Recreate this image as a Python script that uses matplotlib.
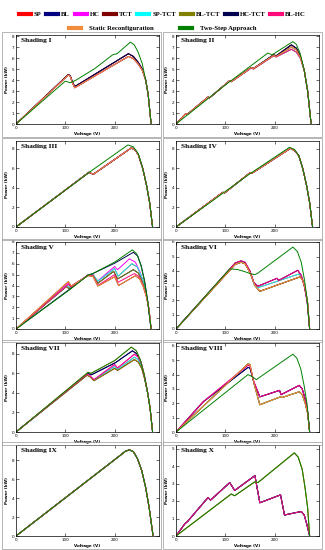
import matplotlib.pyplot as plt
from matplotlib.lines import Line2D
from matplotlib.patches import Rectangle

series = ["SP", "BL", "HC", "TCT", "SP-TCT", "BL-TCT", "HC-TCT", "BL-HC",
          "Static Reconfiguration", "Two-Step Approach"]
colors = ["#ff0000", "#000080", "#ff00ff", "#800000", "#00ffff", "#808000",
          "#000050", "#ff0a78", "#f08c3c", "#008000"]
titles = ["Shading I", "Shading II", "Shading III", "Shading IV", "Shading V",
          "Shading VI", "Shading VII", "Shading VIII", "Shading IX", "Shading X"]

# ---------------------------
# P-V curves (V in volts, P in kW)
# ---------------------------
v1_ts = [0, 100, 110, 122, 160, 196, 205, 232, 240, 248, 256, 263, 268, 274]
p1_ts = [0, 3.9, 3.75, 4.0, 5.05, 6.3, 6.4, 7.45, 7.2, 6.5, 5.5, 4.0, 2.7, 0]
v1_a = [0, 106, 110, 114, 119, 228, 238, 248, 256, 263, 268, 274]
p1_a = [0, 4.5, 4.4, 3.9, 3.4, 6.4, 6.15, 5.6, 5.0, 4.0, 2.7, 0]
p1_b = [0, 4.45, 4.35, 3.8, 3.3, 6.15, 5.95, 5.45, 4.9, 4.0, 2.7, 0]

v2_ts = [0, 100, 186, 195, 237, 244, 252, 260, 267, 274]
p2_ts = [0, 3.55, 6.45, 6.3, 7.5, 7.25, 6.4, 4.9, 3.0, 0]
v2_a = [0, 20, 23, 65, 68, 109, 112, 153, 157, 198, 203, 234, 244, 252, 260, 267, 274]
p2_a = [0, 0.95, 0.88, 2.45, 2.38, 3.95, 3.85, 5.15, 5.05, 6.3, 6.2, 7.2, 6.9, 6.2, 4.9, 3.0, 0]
p2_b = [0, 0.95, 0.88, 2.45, 2.38, 3.95, 3.85, 5.15, 5.05, 6.25, 6.15, 7.0, 6.75, 6.1, 4.9, 3.0, 0]
p2_c = [0, 0.95, 0.88, 2.45, 2.38, 3.95, 3.85, 5.1, 5.0, 6.2, 6.1, 6.8, 6.55, 6.0, 4.9, 3.0, 0]

v3_ts = [0, 150, 227, 238, 248, 257, 265, 271, 277]
p3_ts = [0, 5.65, 8.4, 8.2, 7.5, 6.0, 4.2, 2.5, 0]
v3_a = [0, 148, 152, 157, 234, 242, 248, 257, 265, 271, 277]
p3_a = [0, 5.6, 5.5, 5.4, 8.1, 7.85, 7.4, 6.0, 4.2, 2.5, 0]

v4_ts = [0, 150, 230, 240, 249, 257, 265, 271, 277]
p4_ts = [0, 5.45, 8.15, 7.95, 7.3, 6.0, 4.2, 2.5, 0]
v4_a = [0, 95, 99, 150, 154, 232, 241, 249, 257, 265, 271, 277]
p4_a = [0, 3.55, 3.5, 5.55, 5.5, 8.05, 7.8, 7.3, 6.0, 4.2, 2.5, 0]

v5_ts = [0, 110, 146, 156, 200, 236, 245, 253, 260, 267, 274]
p5_ts = [0, 3.65, 4.95, 5.1, 6.15, 7.27, 6.9, 5.9, 4.5, 2.6, 0]
v5_b = [0, 110, 146, 156, 200, 238, 247, 254, 261, 267, 274]
p5_b = [0, 3.7, 4.95, 5.1, 6.05, 7.05, 6.7, 5.8, 4.4, 2.6, 0]
v5_c = [0, 106, 112, 146, 156, 164, 200, 206, 230, 242, 251, 259, 267, 274]
p5_c = [0, 4.2, 3.95, 4.95, 5.05, 4.35, 5.75, 5.45, 6.45, 6.15, 5.3, 4.2, 2.5, 0]
v5_d = [0, 104, 110, 146, 156, 166, 200, 207, 235, 246, 254, 261, 268, 274]
p5_d = [0, 4.0, 3.8, 4.95, 5.0, 4.4, 5.55, 4.85, 6.0, 5.7, 4.9, 3.9, 2.3, 0]
v5_e = [0, 102, 108, 146, 156, 166, 198, 206, 238, 248, 256, 263, 269, 274]
p5_e = [0, 3.9, 3.7, 4.95, 4.95, 4.2, 5.3, 4.6, 5.45, 5.15, 4.4, 3.4, 2.0, 0]
v5_f = [0, 106, 112, 146, 156, 166, 200, 207, 240, 249, 257, 264, 270, 274]
p5_f = [0, 4.1, 3.85, 4.95, 4.9, 4.0, 5.0, 4.3, 5.1, 4.85, 4.1, 3.1, 1.8, 0]
v5_g = [0, 106, 112, 146, 156, 166, 200, 208, 242, 251, 258, 265, 270, 274]
p5_g = [0, 4.35, 3.95, 4.9, 4.85, 3.95, 4.8, 4.0, 4.9, 4.6, 3.9, 2.9, 1.7, 0]

v6_ts = [0, 109, 125, 140, 152, 160, 166, 237, 246, 254, 261, 266, 271]
p6_ts = [0, 4.15, 4.1, 3.95, 3.8, 3.75, 3.85, 5.65, 5.35, 4.6, 3.3, 2.0, 0]
v6_u = [0, 120, 132, 140, 150, 158, 166, 205, 208, 247, 254, 260, 266, 271]
p6_u = [0, 4.55, 4.7, 4.6, 4.0, 3.2, 2.95, 3.5, 3.35, 4.05, 3.7, 3.0, 1.9, 0]
v6_m = [0, 120, 132, 140, 150, 158, 166, 250, 256, 261, 266, 271]
p6_m = [0, 4.5, 4.65, 4.55, 3.95, 3.1, 2.85, 3.8, 3.5, 3.0, 1.9, 0]
v6_l = [0, 120, 132, 140, 150, 160, 170, 252, 257, 262, 267, 271]
p6_l = [0, 4.45, 4.6, 4.5, 3.9, 3.0, 2.6, 3.6, 3.35, 2.8, 1.8, 0]

v7_ts = [0, 146, 152, 200, 234, 244, 252, 260, 267, 272, 277]
p7_ts = [0, 6.1, 6.0, 7.3, 8.68, 8.3, 7.4, 5.9, 4.0, 2.4, 0]
v7_b = [0, 146, 153, 202, 236, 245, 253, 260, 267, 272, 277]
p7_b = [0, 6.0, 5.85, 7.1, 8.3, 8.0, 7.2, 5.8, 4.0, 2.4, 0]
v7_c = [0, 144, 150, 158, 200, 206, 240, 248, 255, 261, 267, 272, 277]
p7_c = [0, 5.9, 5.75, 5.35, 6.9, 6.55, 7.95, 7.65, 6.9, 5.6, 4.0, 2.4, 0]
p7_d = [0, 5.85, 5.7, 5.3, 6.7, 6.4, 7.65, 7.4, 6.7, 5.5, 4.0, 2.4, 0]
p7_e = [0, 5.8, 5.65, 5.25, 6.5, 6.3, 7.4, 7.15, 6.5, 5.4, 4.0, 2.4, 0]

v8_ts = [0, 146, 152, 163, 237, 245, 253, 260, 266, 271]
p8_ts = [0, 4.0, 3.9, 3.65, 5.42, 5.15, 4.4, 3.2, 1.9, 0]
v8_u = [0, 55, 146, 150, 158, 170, 210, 213, 250, 256, 262, 267, 271]
p8_u = [0, 2.1, 4.65, 4.6, 3.5, 2.45, 2.9, 2.6, 3.25, 3.0, 2.3, 1.4, 0]
p8_p = [0, 2.1, 4.5, 4.45, 3.45, 2.45, 2.9, 2.6, 3.25, 3.0, 2.3, 1.4, 0]
v8_l = [0, 146, 150, 158, 170, 212, 215, 250, 256, 262, 267, 271]
p8_l = [0, 4.75, 4.7, 3.4, 1.9, 2.45, 2.4, 2.8, 2.6, 2.0, 1.3, 0]

v9 = [0, 210, 222, 230, 238, 246, 255, 263, 270, 278]
p9 = [0, 8.45, 8.95, 9.08, 8.9, 8.2, 6.9, 5.1, 3.0, 0]

v10_ts = [0, 112, 119, 160, 166, 240, 248, 256, 262, 267, 271]
p10_ts = [0, 2.4, 2.3, 3.1, 3.05, 4.75, 4.5, 3.8, 2.7, 1.6, 0]
v10_p = [0, 18, 24, 65, 70, 109, 119, 160, 170, 212, 220, 254, 260, 265, 271]
p10_p = [0, 0.7, 0.85, 2.2, 2.05, 3.05, 2.6, 3.45, 1.9, 2.35, 1.2, 1.4, 1.2, 0.7, 0]

# which curve every series follows in each panel (same order as `series`)
panels = [
    [(v1_a, p1_b), (v1_a, p1_a), (v1_a, p1_b), (v1_a, p1_a), (v1_a, p1_b),
     (v1_a, p1_b), (v1_a, p1_a), (v1_a, p1_b), (v1_a, p1_b), (v1_ts, p1_ts)],
    [(v2_a, p2_c), (v2_a, p2_a), (v2_a, p2_b), (v2_a, p2_a), (v2_a, p2_c),
     (v2_a, p2_b), (v2_a, p2_a), (v2_a, p2_c), (v2_a, p2_b), (v2_ts, p2_ts)],
    [(v3_a, p3_a)] * 9 + [(v3_ts, p3_ts)],
    [(v4_a, p4_a)] * 9 + [(v4_ts, p4_ts)],
    [(v5_d, p5_d), (v5_e, p5_e), (v5_c, p5_c), (v5_g, p5_g), (v5_d, p5_d),
     (v5_e, p5_e), (v5_b, p5_b), (v5_f, p5_f), (v5_g, p5_g), (v5_ts, p5_ts)],
    [(v6_m, p6_m), (v6_l, p6_l), (v6_u, p6_u), (v6_l, p6_l), (v6_m, p6_m),
     (v6_l, p6_l), (v6_u, p6_u), (v6_u, p6_u), (v6_l, p6_l), (v6_ts, p6_ts)],
    [(v7_c, p7_d), (v7_b, p7_b), (v7_c, p7_c), (v7_c, p7_e), (v7_c, p7_d),
     (v7_c, p7_e), (v7_b, p7_b), (v7_c, p7_c), (v7_ts, p7_ts), (v7_ts, p7_ts)],
    [(v8_l, p8_l), (v8_u, p8_p), (v8_u, p8_u), (v8_l, p8_l), (v8_l, p8_l),
     (v8_l, p8_l), (v8_u, p8_p), (v8_u, p8_u), (v8_l, p8_l), (v8_ts, p8_ts)],
    [(v9, p9)] * 10,
    [(v10_p, p10_p)] * 5 + [(v10_ts, p10_ts)] + [(v10_p, p10_p)] * 2
    + [(v10_ts, p10_ts)] * 2,
]

ylims = [8.1, 8.1, 8.8, 8.8, 8.0, 6.0, 9.1, 6.2, 9.6, 5.2]
ysteps = [1, 1, 2, 2, 1, 1, 2, 1, 2, 1]

# plot-area rows in pixels (top, bottom) and column lefts
rows_px = [(35, 124), (141, 227), (242, 329), (343, 432), (445, 536)]
cols_px = [16, 176]
W, H = 325, 550

fig = plt.figure(figsize=(3.25, 5.5), dpi=100)
serif = "Liberation Serif"

for i in range(10):
    r, c = divmod(i, 2)
    top, bot = rows_px[r]
    ax = fig.add_axes([cols_px[c] / W, 1 - bot / H, 143 / W, (bot - top) / H])
    for k in range(10):
        v, p = panels[i][k]
        ax.plot(v, p, color=colors[k], lw=0.7)
    ax.set_xlim(0, 290)
    ax.set_ylim(0, ylims[i])
    ax.set_xticks([0, 100, 200])
    step = ysteps[i]
    ax.set_yticks([t * step for t in range(int(ylims[i] / step) + 1)])
    ax.tick_params(direction="in", top=True, right=True, length=2, width=0.4,
                   labelsize=3, pad=1.5)
    for s in ax.spines.values():
        s.set_linewidth(0.5)
    ax.set_xlabel("Voltage (V)", fontsize=3, fontweight="bold", labelpad=1.5)
    ax.set_ylabel("Power (kW)", fontsize=3, fontweight="bold", labelpad=1.5)
    ax.text(0.035, 0.97, titles[i], transform=ax.transAxes, ha="left", va="top",
            fontsize=5.3, fontweight="bold", family=serif)
    # thin frame round every panel
    x0 = (2 if c == 0 else 163) / W
    fig.patches.append(Rectangle((x0, 1 - (bot + 13) / H), 159 / W,
                                 (bot - top + 16) / H, transform=fig.transFigure,
                                 fill=False, ec="#999999", lw=0.5))

handles = [Line2D([], [], color=col, lw=3) for col in colors]
leg_font = {"family": serif, "weight": "bold", "size": 4.8}
fig.legend(handles[:8], series[:8], loc="center", bbox_to_anchor=(0.5, 1 - 14 / H),
           ncol=8, frameon=False, prop=leg_font, handlelength=1.8,
           handletextpad=0.45, columnspacing=0.7, borderpad=0, borderaxespad=0)
fig.legend(handles[8:], series[8:], loc="center", bbox_to_anchor=(0.5, 1 - 28 / H),
           ncol=2, frameon=False, prop=leg_font, handlelength=1.8,
           handletextpad=1.2, columnspacing=4, borderpad=0, borderaxespad=0)

plt.savefig("out.png", dpi=100)
plt.close()
